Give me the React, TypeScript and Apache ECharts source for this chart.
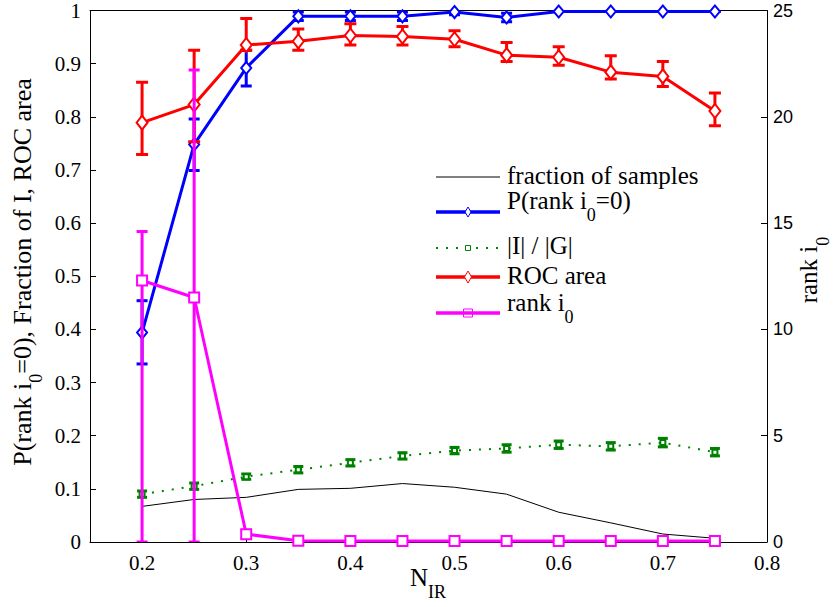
import React, { useEffect, useRef } from 'react';
import * as echarts from 'echarts';

const xValues = [0.2, 0.25, 0.3, 0.35, 0.4, 0.45, 0.5, 0.55, 0.6, 0.65, 0.7, 0.75];
const xTickValues = [0.2, 0.3, 0.4, 0.5, 0.6, 0.7, 0.8];

const fractionSamples = [0.067, 0.08, 0.084, 0.099, 0.101, 0.11, 0.103, 0.09, 0.056, 0.036, 0.015, 0.007];

const pRank0 = [0.394, 0.748, 0.892, 0.989, 0.989, 0.989, 0.997, 0.987, 0.998, 0.998, 0.998, 0.998];
const pRank0Low = [0.335, 0.699, 0.858, 0.981, 0.981, 0.981, 0.992, 0.979, 0.998, 0.998, 0.998, 0.998];
const pRank0High = [0.454, 0.796, 0.925, 0.997, 0.997, 0.997, 1.0, 0.995, 0.998, 0.998, 0.998, 0.998];

const ratioIG = [0.09, 0.105, 0.123, 0.136, 0.149, 0.162, 0.172, 0.176, 0.183, 0.18, 0.187, 0.169];
const ratioIGLow = [0.084, 0.099, 0.118, 0.13, 0.143, 0.156, 0.166, 0.169, 0.176, 0.173, 0.179, 0.162];
const ratioIGHigh = [0.096, 0.111, 0.128, 0.142, 0.155, 0.168, 0.178, 0.183, 0.19, 0.187, 0.195, 0.176];

const rocArea = [0.789, 0.823, 0.935, 0.942, 0.953, 0.951, 0.946, 0.916, 0.912, 0.884, 0.876, 0.811];
const rocLow = [0.729, 0.753, 0.925, 0.925, 0.935, 0.935, 0.932, 0.904, 0.897, 0.871, 0.857, 0.783];
const rocHigh = [0.865, 0.925, 0.985, 0.965, 0.975, 0.97, 0.962, 0.94, 0.932, 0.915, 0.904, 0.845];

const rankI0 = [12.3, 11.5, 0.37, 0.06, 0.05, 0.05, 0.05, 0.05, 0.05, 0.05, 0.05, 0.05];
const rankLow = [0, 0, 0.2, 0.02, 0.02, 0.02, 0.02, 0.02, 0.02, 0.02, 0.02, 0.02];
const rankHigh = [14.6, 22.2, 0.55, 0.1, 0.08, 0.08, 0.08, 0.08, 0.08, 0.08, 0.08, 0.08];

const SERIF = '"Liberation Serif", "Times New Roman", serif';
const SANS = '"Liberation Sans", Arial, sans-serif';

const BLUE = '#0000ff';
const RED = '#ff0000';
const MAGENTA = '#ff00ff';
const GREEN = '#008000';

function makeRich(mainSize: number) {
  return {
    m: { fontFamily: SERIF, fontSize: mainSize, lineHeight: 30, verticalAlign: 'top', fill: '#000', color: '#000' },
    s: { fontFamily: SERIF, fontSize: 18, lineHeight: 18, verticalAlign: 'top', padding: [18, 0, 0, 0], fill: '#000', color: '#000' },
  };
}
const richLegend = makeRich(25);
const richAxis = makeRich(26);
const richName = makeRich(25);

function errorSeries(low: number[], high: number[], color: string, lw: number, capW: number, yAxisIndex: number, z: number) {
  return {
    type: 'custom',
    xAxisIndex: 0,
    yAxisIndex,
    z,
    clip: true,
    silent: true,
    data: xValues.map((x, i) => [x, low[i], high[i]]),
    encode: { x: 0, y: [1, 2] },
    renderItem: (_params: any, api: any) => {
      const x = api.value(0);
      const p1 = api.coord([x, api.value(1)]);
      const p2 = api.coord([x, api.value(2)]);
      const h = capW / 2;
      const st = { stroke: color, lineWidth: lw };
      return {
        type: 'group',
        children: [
          { type: 'line', shape: { x1: p1[0], y1: p1[1], x2: p2[0], y2: p2[1] }, style: st },
          { type: 'line', shape: { x1: p1[0] - h, y1: p1[1], x2: p1[0] + h, y2: p1[1] }, style: st },
          { type: 'line', shape: { x1: p2[0] - h, y1: p2[1], x2: p2[0] + h, y2: p2[1] }, style: st },
        ],
      };
    },
  };
}

function legendText(x: number, mainCenterY: number, text: string) {
  return {
    type: 'text',
    x,
    y: mainCenterY - 15,
    style: { text, rich: richLegend, align: 'left', verticalAlign: 'top' },
    z: 100,
  };
}

function diamond(cx: number, cy: number, w: number, h: number, color: string) {
  return {
    type: 'polygon',
    shape: { points: [[cx, cy - h / 2], [cx + w / 2, cy], [cx, cy + h / 2], [cx - w / 2, cy]] },
    style: { stroke: color, fill: '#fff', lineWidth: 1 },
    z: 101,
  };
}

export default function App() {
  const ref = useRef<HTMLDivElement>(null);
  useEffect(() => {
    if (!ref.current) return;
    const chart = echarts.init(ref.current, undefined, { renderer: 'svg' });
    const lx1 = 436, lx2 = 500, lmx = 468, ltx = 507;
    const option: any = {
      animation: false,
      backgroundColor: '#fff',
      grid: { left: 90, top: 7, width: 677, height: 535 },
      xAxis: [
        {
          type: 'value',
          min: 0.15,
          max: 0.8,
          position: 'bottom',
          axisLine: { show: true, lineStyle: { color: '#000', width: 1 } },
          axisTick: { show: true, inside: true, length: 6, customValues: xTickValues, lineStyle: { color: '#000' } },
          axisLabel: { customValues: xTickValues, fontFamily: SERIF, fontSize: 21, color: '#000', margin: 10 },
          splitLine: { show: false },
        },
        {
          type: 'value',
          min: 0.15,
          max: 0.8,
          position: 'top',
          axisLine: { show: true, onZero: false, lineStyle: { color: '#000', width: 1 } },
          axisTick: { show: false },
          axisLabel: { show: false },
          splitLine: { show: false },
        },
      ],
      yAxis: [
        {
          type: 'value',
          min: 0,
          max: 1,
          interval: 0.1,
          position: 'left',
          axisLine: { show: true, lineStyle: { color: '#000', width: 1 } },
          axisTick: { show: true, inside: true, length: 6, lineStyle: { color: '#000' } },
          axisLabel: { fontFamily: SERIF, fontSize: 21, color: '#000', margin: 9 },
          splitLine: { show: false },
        },
        {
          type: 'value',
          min: 0,
          max: 25,
          interval: 5,
          position: 'right',
          axisLine: { show: true, lineStyle: { color: '#000', width: 1 } },
          axisTick: { show: true, inside: true, length: 6, lineStyle: { color: '#000' } },
          axisLabel: { fontFamily: SANS, fontSize: 18, color: '#000', margin: 6 },
          splitLine: { show: false },
        },
      ],
      series: [
        {
          type: 'line',
          name: 'fraction of samples',
          yAxisIndex: 0,
          z: 2,
          symbol: 'none',
          lineStyle: { color: '#000', width: 1 },
          data: xValues.map((x, i) => [x, fractionSamples[i]]),
        },
        errorSeries(ratioIGLow, ratioIGHigh, GREEN, 3, 10, 0, 3),
        {
          type: 'line',
          name: '|I| / |G|',
          yAxisIndex: 0,
          z: 3,
          symbol: 'emptyRect',
          symbolSize: 5,
          itemStyle: { color: GREEN, borderColor: GREEN, borderWidth: 1 },
          lineStyle: { color: GREEN, width: 2, type: [2, 8] },
          data: xValues.map((x, i) => [x, ratioIG[i]]),
        },
        errorSeries(pRank0Low, pRank0High, BLUE, 3, 11, 0, 4),
        {
          type: 'line',
          name: 'P(rank i0=0)',
          yAxisIndex: 0,
          z: 4,
          symbol: 'emptyDiamond',
          symbolSize: [10, 12],
          itemStyle: { color: BLUE, borderColor: BLUE, borderWidth: 2 },
          lineStyle: { color: BLUE, width: 3 },
          data: xValues.map((x, i) => [x, pRank0[i]]),
        },
        errorSeries(rocLow, rocHigh, RED, 3, 12, 0, 5),
        {
          type: 'line',
          name: 'ROC area',
          yAxisIndex: 0,
          z: 5,
          symbol: 'emptyDiamond',
          symbolSize: [11, 14],
          itemStyle: { color: RED, borderColor: RED, borderWidth: 2 },
          lineStyle: { color: RED, width: 3 },
          data: xValues.map((x, i) => [x, rocArea[i]]),
        },
        errorSeries(rankLow, rankHigh, MAGENTA, 3, 11, 1, 6),
        {
          type: 'line',
          name: 'rank i0',
          yAxisIndex: 1,
          z: 6,
          symbol: 'emptyRect',
          symbolSize: 10,
          itemStyle: { color: MAGENTA, borderColor: MAGENTA, borderWidth: 2 },
          lineStyle: { color: MAGENTA, width: 3 },
          data: xValues.map((x, i) => [x, rankI0[i]]),
        },
      ],
      graphic: [
        // axis titles
        {
          type: 'text',
          x: 9,
          y: 272,
          rotation: Math.PI / 2,
          style: { text: '{m|P(rank i}{s|0}{m|=0), Fraction of I, ROC area}', rich: richAxis, align: 'center', verticalAlign: 'top' },
        },
        {
          type: 'text',
          x: 796,
          y: 270,
          rotation: Math.PI / 2,
          style: { text: '{m|rank i}{s|0}', rich: richName, align: 'center', verticalAlign: 'top' },
        },
        {
          type: 'text',
          x: 428,
          y: 565,
          style: { text: '{m|N}{s|IR}', rich: richName, align: 'center', verticalAlign: 'top' },
        },
        // legend
        { type: 'line', shape: { x1: lx1, y1: 177, x2: lx2, y2: 177 }, style: { stroke: '#000', lineWidth: 1 }, z: 100 },
        legendText(ltx, 178, '{m|fraction of samples}'),
        { type: 'line', shape: { x1: lx1, y1: 212, x2: lx2, y2: 212 }, style: { stroke: BLUE, lineWidth: 3.5 }, z: 100 },
        diamond(lmx, 212, 6, 10, BLUE),
        legendText(ltx, 203, '{m|P(rank i}{s|0}{m|=0)}'),
        { type: 'line', shape: { x1: lx1, y1: 248, x2: lx2, y2: 248 }, style: { stroke: GREEN, lineWidth: 2, lineDash: [2, 8] }, z: 100 },
        { type: 'rect', shape: { x: lmx - 2.5, y: 245.5, width: 5, height: 5 }, style: { stroke: GREEN, fill: '#fff', lineWidth: 1 }, z: 101 },
        legendText(ltx, 248, '{m||I| / |G|}'),
        { type: 'line', shape: { x1: lx1, y1: 277, x2: lx2, y2: 277 }, style: { stroke: RED, lineWidth: 3.5 }, z: 100 },
        diamond(lmx, 277, 7, 12, RED),
        legendText(ltx, 278, '{m|ROC area}'),
        { type: 'line', shape: { x1: lx1, y1: 313, x2: lx2, y2: 313 }, style: { stroke: MAGENTA, lineWidth: 3.5 }, z: 100 },
        { type: 'rect', shape: { x: lmx - 4.5, y: 309, width: 9, height: 8 }, style: { stroke: MAGENTA, fill: 'rgba(0,0,0,0)', lineWidth: 1 }, z: 101 },
        legendText(ltx, 305, '{m|rank i}{s|0}'),
      ],
    };
    chart.setOption(option);
    return () => chart.dispose();
  }, []);
  return (
    <div
      ref={ref}
      style={{ position: 'fixed', left: 0, top: 0, width: 833, height: 607, background: '#fff' }}
    />
  );
}
